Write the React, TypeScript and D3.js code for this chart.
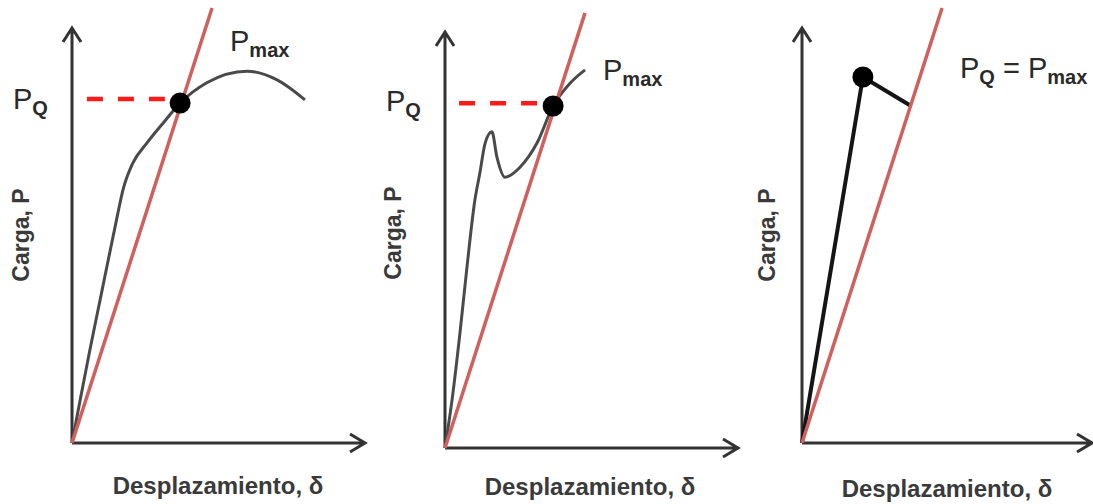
import React, { useRef, useEffect } from "react";
import * as d3 from "d3";

// curve values, in axis units (0..100 on both axes)
const curve1X = [0, 2.8, 6.1, 9.6, 15.4, 17.4, 20.8, 25.6, 31.0, 36.9, 46.0, 59.7, 70.0, 79.5];
const curve1Y = [0, 10.4, 22.4, 34.5, 54.5, 61.0, 67.5, 72.3, 77.0, 81.9, 86.8, 89.6, 87.5, 82.7];

const curve2X = [0, 2.4, 5.1, 7.5, 10.2, 11.9, 13.7, 16.0, 17.7, 20.5, 25.6, 31.4, 36.9, 42.7, 47.8];
const curve2Y = [0, 11.5, 27.6, 43.5, 59.6, 66.1, 73.3, 76.0, 70.0, 65.1, 67.5, 73.3, 82.2, 87.7, 90.9];

const curve3X = [0, 21.0, 37.2];
const curve3Y = [0, 88.2, 81.4];

// secant (red) line end points
const secantX = [47.8, 47.8, 48.3];
const secantY = [104.8, 104.6, 104.8];

// P_Q / P_max point
const pointX = [36.9, 36.9, 21.0];
const pointY = [81.9, 82.2, 88.2];

// dashed P_Q level: [start, end] and level
const dashStart = [5.1, 4.8, null];
const dashEnd = [31.7, 31.4, null];
const dashLevel = [82.9, 82.9, null];

const yTitle = "Carga, P";
const xTitle = "Desplazamiento, δ";

const App = () => {
  const ref = useRef<SVGSVGElement>(null);

  useEffect(() => {
    const svg = d3.select(ref.current);
    svg.selectAll("*").remove();

    const width = 1093;
    const height = 504;
    svg.attr("width", width).attr("height", height);

    const font = "'Liberation Sans', Arial, sans-serif";
    const axisColor = "#333";

    const panels = [
      { ox: 72, oy: 443, w: 293, h: 415, xs: curve1X, ys: curve1Y, yLab: [21, 235], xLab: [218, 494], lineColor: "#4a4a4a", lineWidth: 3 },
      { ox: 445, oy: 448, w: 293, h: 416, xs: curve2X, ys: curve2Y, yLab: [393, 233], xLab: [590, 495], lineColor: "#4a4a4a", lineWidth: 3 },
      { ox: 802, oy: 443, w: 290, h: 415, xs: curve3X, ys: curve3Y, yLab: [767, 235], xLab: [947, 497], lineColor: "#151515", lineWidth: 4 }
    ];

    panels.forEach((p, i) => {
      const x = d3.scaleLinear().domain([0, 100]).range([p.ox, p.ox + p.w]);
      const y = d3.scaleLinear().domain([0, 100]).range([p.oy, p.oy - p.h]);
      const g = svg.append("g");

      // axes with open arrow heads
      g.append("path")
        .attr("d", `M${x(0)},${y(0)} V${y(100)} M${x(0) - 9},${y(100) + 14} L${x(0)},${y(100)} L${x(0) + 9},${y(100) + 14}`)
        .attr("fill", "none")
        .attr("stroke", axisColor)
        .attr("stroke-width", 3);
      g.append("path")
        .attr("d", `M${x(0)},${y(0)} H${x(100)} M${x(100) - 15},${y(0) - 9} L${x(100)},${y(0)} L${x(100) - 15},${y(0) + 9}`)
        .attr("fill", "none")
        .attr("stroke", axisColor)
        .attr("stroke-width", 3);

      // load-displacement curve
      const pts: [number, number][] = p.xs.map((d, j) => [d, p.ys[j]]);
      const line = d3.line<[number, number]>()
        .x((d) => x(d[0]))
        .y((d) => y(d[1]))
        .curve(i === 2 ? d3.curveLinear : d3.curveMonotoneX);
      g.append("path")
        .attr("d", line(pts))
        .attr("fill", "none")
        .attr("stroke", p.lineColor)
        .attr("stroke-width", p.lineWidth)
        .attr("stroke-linejoin", "round");

      // secant line
      g.append("line")
        .attr("x1", x(0)).attr("y1", y(0))
        .attr("x2", x(secantX[i])).attr("y2", y(secantY[i]))
        .attr("stroke", "#d0605e")
        .attr("stroke-width", 3.5);

      // dashed level
      if (dashLevel[i] !== null) {
        g.append("line")
          .attr("x1", x(dashStart[i] as number)).attr("x2", x(dashEnd[i] as number))
          .attr("y1", y(dashLevel[i] as number)).attr("y2", y(dashLevel[i] as number))
          .attr("stroke", "#ff1a1a")
          .attr("stroke-width", 4.5)
          .attr("stroke-dasharray", "16,15");
      }

      g.append("circle")
        .attr("cx", x(pointX[i]))
        .attr("cy", y(pointY[i]))
        .attr("r", 10.5)
        .attr("fill", "#000");

      // axis titles
      g.append("text")
        .attr("transform", `translate(${p.yLab[0]},${p.yLab[1]}) rotate(-90)`)
        .attr("text-anchor", "middle")
        .attr("dominant-baseline", "central")
        .attr("font-family", font)
        .attr("font-weight", "bold")
        .attr("font-size", 23)
        .attr("fill", "#3a3a3a")
        .text(yTitle);
      g.append("text")
        .attr("x", p.xLab[0])
        .attr("y", p.xLab[1])
        .attr("text-anchor", "middle")
        .attr("font-family", font)
        .attr("font-weight", "bold")
        .attr("font-size", 24)
        .attr("fill", "#3a3a3a")
        .text(xTitle);
    });

    // P labels
    const pLabel = (lx: number, ly: number, parts: [string, boolean][]) => {
      const t = svg.append("text")
        .attr("x", lx)
        .attr("y", ly)
        .attr("font-family", font)
        .attr("fill", "#2a2a2a");
      let sub = false;
      parts.forEach(([s, isSub]) => {
        const ts = t.append("tspan").text(s);
        if (isSub) {
          ts.attr("font-size", 20).attr("font-weight", "bold");
          if (!sub) ts.attr("dy", 6);
        } else {
          ts.attr("font-size", 29);
          if (sub) ts.attr("dy", -6);
        }
        sub = isSub;
      });
    };

    pLabel(13, 109, [["P", false], ["Q", true]]);
    pLabel(230, 51, [["P", false], ["max", true]]);
    pLabel(386, 111, [["P", false], ["Q", true]]);
    pLabel(603, 80, [["P", false], ["max", true]]);
    pLabel(960, 78, [["P", false], ["Q", true], [" = P", false], ["max", true]]);
  }, []);

  return (
    <svg ref={ref} style={{ position: "absolute", left: 0, top: 0, background: "#fff" }}></svg>
  );
};

export default App;
